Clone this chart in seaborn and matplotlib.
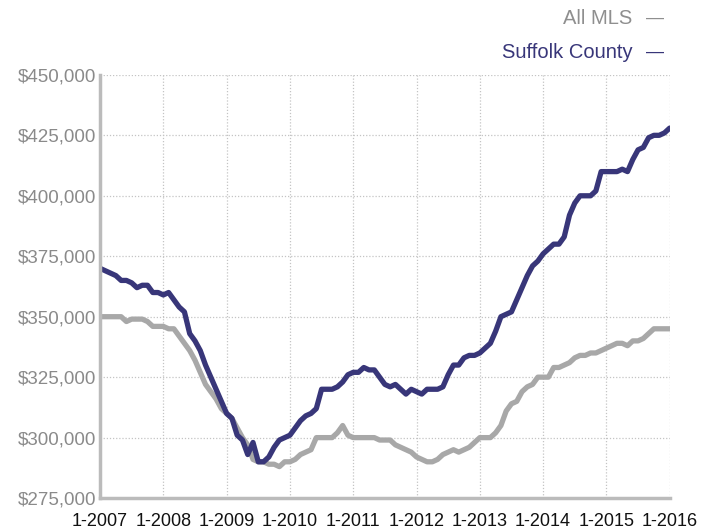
import numpy as np
import pandas as pd
import matplotlib
matplotlib.use('Agg')
import matplotlib.pyplot as plt
import seaborn as sns

# monthly median price, Jan 2007 .. Jan 2016 (thousands of dollars)
suffolk = [370, 369, 368, 367, 365, 365, 364, 362, 363, 363, 360, 360,
           359, 360, 357, 354, 352, 343, 340, 336, 330, 325, 320, 315,
           310, 308, 301, 299, 293, 298, 290, 290, 292, 296, 299, 300,
           301, 304, 307, 309, 310, 312, 320, 320, 320, 321, 323, 326,
           327, 327, 329, 328, 328, 325, 322, 321, 322, 320, 318, 320,
           319, 318, 320, 320, 320, 321, 326, 330, 330, 333, 334, 334,
           335, 337, 339, 344, 350, 351, 352, 357, 362, 367, 371, 373,
           376, 378, 380, 380, 383, 392, 397, 400, 400, 400, 402, 410,
           410, 410, 410, 411, 410, 415, 419, 420, 424, 425, 425, 426,
           428]
all_mls = [350, 350, 350, 350, 350, 348, 349, 349, 349, 348, 346, 346,
           346, 345, 345, 342, 339, 336, 332, 327, 322, 319, 316, 312,
           310, 308, 304, 300, 297, 291, 290, 290, 289, 289, 288, 290,
           290, 291, 293, 294, 295, 300, 300, 300, 300, 302, 305, 301,
           300, 300, 300, 300, 300, 299, 299, 299, 297, 296, 295, 294,
           292, 291, 290, 290, 291, 293, 294, 295, 294, 295, 296, 298,
           300, 300, 300, 302, 305, 311, 314, 315, 319, 321, 322, 325,
           325, 325, 329, 329, 330, 331, 333, 334, 334, 335, 335, 336,
           337, 338, 339, 339, 338, 340, 340, 341, 343, 345, 345, 345,
           345]
year_labels = ['1-2007', '1-2008', '1-2009', '1-2010', '1-2011',
               '1-2012', '1-2013', '1-2014', '1-2015', '1-2016']
y_ticks = [275000, 300000, 325000, 350000, 375000, 400000, 425000, 450000]

navy = '#383679'
grey = '#a8a8a8'

months = np.arange(len(suffolk))
df = pd.DataFrame({
    'month': np.concatenate([months, months]),
    'price': np.array(all_mls + suffolk) * 1000,
    'area': ['All MLS'] * len(all_mls) + ['Suffolk County'] * len(suffolk),
})

sns.set_style('white')
plt.rcParams['font.family'] = ['Liberation Sans', 'DejaVu Sans']

fig = plt.figure(figsize=(7.02, 5.31), dpi=100)
ax = fig.add_axes([0.1425, 0.062, 0.8115, 0.797])

sns.lineplot(data=df, x='month', y='price', hue='area',
             palette={'All MLS': grey, 'Suffolk County': navy},
             linewidth=3.8, legend=False, ax=ax)

ax.set_xlim(0, 108)
ax.set_ylim(275000, 450000)
ax.set_xticks(np.arange(0, 109, 12))
ax.set_xticklabels(year_labels, fontsize=13, color='#111111')
ax.set_yticks(y_ticks)
ax.set_yticklabels(['${:,}'.format(v) for v in y_ticks], fontsize=13.5,
                   color='#8a8a8a')
ax.set_xlabel('')
ax.set_ylabel('')
ax.tick_params(axis='x', length=5, width=1.5, color='#bbbbbb', pad=6)
ax.tick_params(axis='y', length=0, pad=3)

ax.grid(True, linestyle=(0, (1, 1.5)), color='#c4c4c4', linewidth=0.9)
for side in ['top', 'right']:
    ax.spines[side].set_visible(False)
for side in ['left', 'bottom']:
    ax.spines[side].set_color('#bbbbbb')
    ax.spines[side].set_linewidth(2.5)

fig.text(0.901, 0.966, 'All MLS', ha='right', va='center',
         fontsize=14.5, color='#8f8f8f')
fig.text(0.946, 0.966, '\u2014', ha='right', va='center',
         fontsize=13, color='#8f8f8f')
fig.text(0.901, 0.902, 'Suffolk County', ha='right', va='center',
         fontsize=14.5, color=navy)
fig.text(0.946, 0.902, '\u2014', ha='right', va='center',
         fontsize=13, color=navy)

fig.savefig('out.png', dpi=100)
